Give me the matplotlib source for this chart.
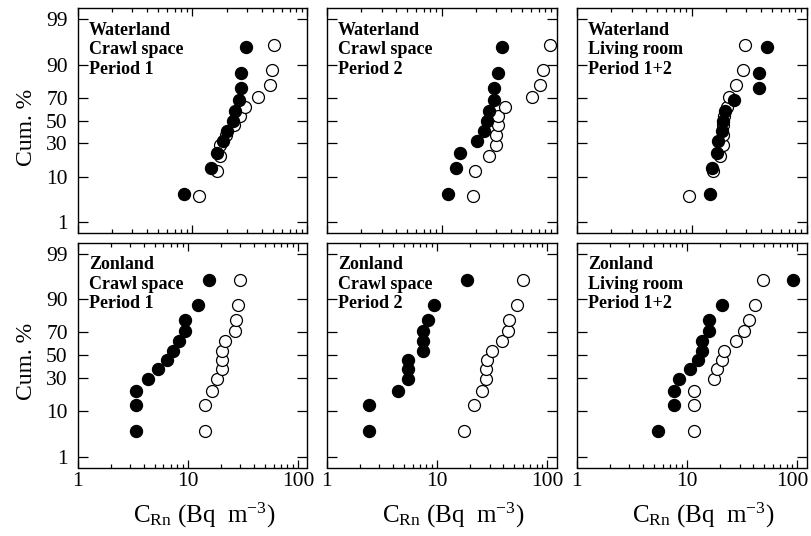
#!/usr/bin/env python3
# encoding: utf-8
"""
Cumulative frequency plots of radon concentration (log-normal probability paper)
"""
from statistics import NormalDist

import numpy as np
import matplotlib
matplotlib.use('Agg')
import matplotlib.pyplot as plt
import matplotlib.transforms as mtransforms
from matplotlib.ticker import LogLocator, NullFormatter, FixedLocator

plt.rcParams['font.family'] = ['Liberation Serif', 'DejaVu Serif']
plt.rcParams['mathtext.fontset'] = 'custom'
plt.rcParams['mathtext.rm'] = 'Liberation Serif'
plt.rcParams['mathtext.it'] = 'Liberation Serif:italic'
plt.rcParams['mathtext.bf'] = 'Liberation Serif:bold'

# panel titles, row by row
titles = ['Waterland\nCrawl space\nPeriod 1',
          'Waterland\nCrawl space\nPeriod 2',
          'Waterland\nLiving room\nPeriod 1+2',
          'Zonland\nCrawl space\nPeriod 1',
          'Zonland\nCrawl space\nPeriod 2',
          'Zonland\nLiving room\nPeriod 1+2']

# C_Rn (Bq m-3), sorted, filled symbols
wl_crawl_p1_filled = [8.5, 14.4, 16.4, 18.5, 20.2, 22.4, 23.3, 25.2, 26.5, 26.5, 29.3]
wl_crawl_p2_filled = [11.4, 13.4, 14.5, 20.5, 23.5, 24.6, 25.6, 28.3, 28.3, 30.7, 33.7]
wl_living_filled = [14.4, 15.2, 16.5, 17.1, 18.3, 18.6, 19.4, 23.3, 38.3, 38.3, 44.9]
zl_crawl_p1_filled = [3.4, 3.4, 3.4, 4.4, 5.4, 6.5, 7.3, 8.4, 9.5, 9.5, 12.4, 15.5]
zl_crawl_p2_filled = [2.4, 2.4, 4.4, 5.4, 5.4, 5.4, 7.5, 7.5, 7.5, 8.3, 9.4, 18.5]
zl_living_filled = [5.4, 7.6, 7.6, 8.4, 10.6, 12.5, 13.6, 13.6, 15.8, 15.8, 20.6, 92.0]

# C_Rn (Bq m-3), sorted, open symbols
wl_crawl_p1_open = [11.4, 16.4, 17.3, 17.5, 19.7, 22.9, 25.7, 28.5, 37.5, 47.4, 49.3, 51.3]
wl_crawl_p2_open = [18.7, 19.4, 25.8, 29.5, 29.5, 30.7, 30.7, 35.4, 61.7, 72.5, 76.5, 87.5]
wl_living_open = [9.4, 15.4, 17.6, 18.6, 18.6, 18.6, 19.1, 20.2, 21.2, 24.3, 28.1, 29.3]
zl_crawl_p1_open = [14.4, 14.4, 16.6, 18.4, 20.6, 20.6, 20.6, 21.5, 26.5, 27.2, 28.4, 29.6]
zl_crawl_p2_open = [17.5, 21.5, 25.6, 27.5, 27.5, 28.5, 31.4, 38.4, 43.8, 44.8, 53.3, 59.6]
zl_living_open = [11.5, 11.5, 11.5, 17.7, 18.5, 20.8, 21.5, 27.7, 32.7, 36.1, 40.9, 49.1]

filled_sets = [wl_crawl_p1_filled, wl_crawl_p2_filled, wl_living_filled,
               zl_crawl_p1_filled, zl_crawl_p2_filled, zl_living_filled]
open_sets = [wl_crawl_p1_open, wl_crawl_p2_open, wl_living_open,
             zl_crawl_p1_open, zl_crawl_p2_open, zl_living_open]

y_ticks = [1, 10, 30, 50, 70, 90, 99]

_nd = NormalDist()


def prob_forward(p):
    # cumulative % -> standard normal quantile
    p = np.clip(np.asarray(p, dtype=float) / 100.0, 1e-9, 1 - 1e-9)
    return np.vectorize(_nd.inv_cdf, otypes=[float])(p)


def prob_inverse(z):
    z = np.asarray(z, dtype=float)
    return np.vectorize(_nd.cdf, otypes=[float])(z) * 100.0


def cum_percent(values):
    """ Hazen plotting positions of the sorted values """
    n = len(values)
    return (np.arange(1, n + 1) - 0.5) / n * 100.0


def draw_panel(fig, ax, filled, opened, title, bottom_row, left_col, last_col):
    ax.plot(opened, cum_percent(opened), 'o', ms=8.6, mfc='white',
            mec='black', mew=0.9, zorder=3)
    ax.plot(filled, cum_percent(filled), 'o', ms=8.6, color='black', zorder=4)

    ax.set_xscale('log')
    ax.set_yscale('function', functions=(prob_forward, prob_inverse))
    ax.set_ylim(0.5, 99.5)
    ax.set_xlim(1, 121 if bottom_row else 100)

    ax.yaxis.set_major_locator(FixedLocator(y_ticks))
    ax.yaxis.set_minor_locator(FixedLocator([]))
    ax.xaxis.set_major_locator(LogLocator(base=10))
    ax.xaxis.set_minor_locator(LogLocator(base=10, subs=np.arange(2, 10)))
    ax.xaxis.set_minor_formatter(NullFormatter())

    ax.tick_params(which='both', direction='in', top=True, right=True,
                   labelsize=15.5, width=0.9)
    ax.tick_params(axis='x', which='major', length=6, pad=3)
    ax.tick_params(axis='x', which='minor', length=3)
    ax.tick_params(axis='y', which='major', length=7, pad=7)

    if bottom_row:
        ax.set_xticks([1, 10, 100])
        ax.set_xticklabels(['1', '10', '100'])
        ax.set_xlabel(r'C$_{\mathrm{Rn}}$ (Bq  m$^{-3}$)', fontsize=18)
        ax.xaxis.set_label_coords(0.55, -0.15)
        if last_col:
            # keep the last "100" inside the figure
            shift = mtransforms.ScaledTranslation(-5 / 100, 0, fig.dpi_scale_trans)
            lab = ax.get_xticklabels()[-1]
            lab.set_transform(lab.get_transform() + shift)
    else:
        ax.set_xticklabels([])
    if left_col:
        ax.set_yticklabels([str(t) for t in y_ticks])
        ax.set_ylabel('Cum. %', fontsize=17)
        ax.yaxis.set_label_coords(-0.175, 0.47)
    else:
        ax.set_yticklabels([])

    for side in ax.spines.values():
        side.set_linewidth(1.0)

    ax.text(0.05, 0.94, title, transform=ax.transAxes, fontsize=13,
            fontweight='bold', va='top', ha='left', linespacing=1.2)


def main():
    fig = plt.figure(figsize=(8.11, 5.36), dpi=100)
    lefts = [77.5 / 811, 326.7 / 811, 576.7 / 811]
    width = 229.8 / 811
    bottoms = [1 - 233 / 536, 1 - 467.5 / 536]
    height = 224.8 / 536

    for i in range(6):
        row, col = divmod(i, 3)
        ax = fig.add_axes([lefts[col], bottoms[row], width, height])
        draw_panel(fig, ax, filled_sets[i], open_sets[i], titles[i],
                   bottom_row=(row == 1), left_col=(col == 0),
                   last_col=(col == 2))

    fig.savefig('out.png', dpi=100)


if __name__ == '__main__':
    main()
